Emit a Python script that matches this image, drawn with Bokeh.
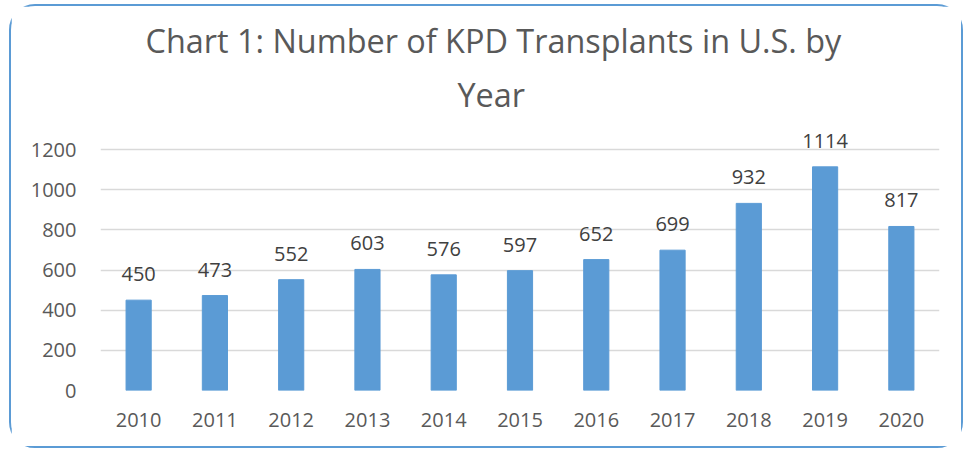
from bokeh.plotting import figure
from bokeh.models import ColumnDataSource, FixedTicker, Title, Range1d
from bokeh.embed import file_html
from bokeh.resources import INLINE
from bokeh.core.properties import value

years = ["2010", "2011", "2012", "2013", "2014", "2015", "2016", "2017", "2018", "2019", "2020"]
transplants = [450, 473, 552, 603, 576, 597, 652, 699, 932, 1114, 817]
y_ticks = [0, 200, 400, 600, 800, 1000, 1200]
title_line1 = "Chart 1: Number of KPD Transplants in U.S. by"
title_line2 = "Year"

FONT = "Open Sans"
src = ColumnDataSource(dict(year=years, n=transplants, label=[str(v) for v in transplants]))

p = figure(x_range=years, y_range=Range1d(0, 1300), width=954, height=444,
           output_backend="svg", toolbar_location=None,
           min_border_left=89, min_border_right=26, min_border_bottom=60, min_border_top=123)
p.title = None
p.add_layout(Title(text=title_line2, align="left", text_font=FONT, text_font_size="32.4px",
                   text_font_style="normal", text_color="#595959", standoff=27, offset=357), "above")
p.add_layout(Title(text=title_line1, align="left", text_font=FONT, text_font_size="32.4px",
                   text_font_style="normal", text_color="#595959", standoff=-10, offset=45), "above")

p.vbar(x="year", top="n", width=0.33, source=src, fill_color="#5B9BD5", line_color="#5B9BD5")
p.text(x="year", y="n", text="label", source=src, text_align="center", text_baseline="bottom",
       y_offset=-19, text_font=value(FONT), text_font_size="20px", text_color="#404040")

p.outline_line_color = None
p.background_fill_color = "white"
p.border_fill_color = "white"
p.styles = {"border": "2px solid #5B9BD5", "border-radius": "26px", "box-sizing": "border-box",
            "margin-left": "9px", "margin-top": "4px"}

p.xgrid.grid_line_color = None
p.ygrid.grid_line_color = "#D9D9D9"
p.ygrid.grid_line_width = 1.5
p.yaxis.ticker = FixedTicker(ticks=y_ticks)
p.ygrid.ticker = FixedTicker(ticks=y_ticks)

for ax in (p.xaxis, p.yaxis):
    ax.axis_line_color = None
    ax.major_tick_line_color = None
    ax.minor_tick_line_color = None
    ax.major_tick_out = 0
    ax.major_tick_in = 0
    ax.major_label_text_font = FONT
    ax.major_label_text_font_size = "20px"
    ax.major_label_text_color = "#595959"
p.yaxis.major_label_standoff = 24
p.xaxis.major_label_standoff = 22
p.x_range.range_padding = 0

open("out.html", "w").write(file_html(p, INLINE))
